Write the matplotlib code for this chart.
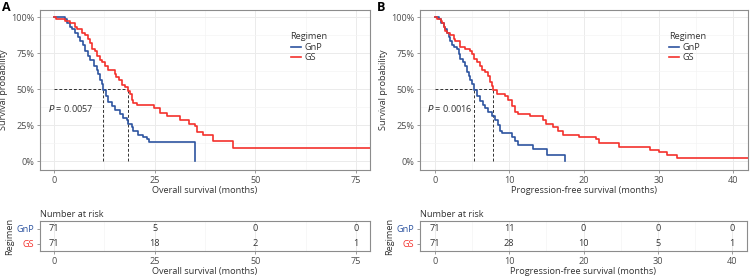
import matplotlib
matplotlib.use("Agg")
import matplotlib.pyplot as plt
import numpy as np

plt.rcParams['font.family'] = ['Open Sans', 'DejaVu Sans']

# ---------------- data ----------------
groups = ["GnP", "GS"]
colors = {"GnP": "#2D54A0", "GS": "#F4312C"}

# Panel A: overall survival
os_gnp_t = [0, 2.7, 3.1, 4.0, 4.4, 5.2, 6.0, 6.4, 7.3, 7.7, 8.5, 8.9, 9.8, 10.6, 11.0, 11.4, 11.8,
            12.2, 12.9, 13.5, 14.3, 15.1, 16.4, 17.2, 18.0, 18.4, 19.3, 19.7, 20.9, 22.1, 23.0, 23.6, 35.0]
os_gnp_s = [1.0, 0.986, 0.958, 0.93, 0.915, 0.887, 0.859, 0.831, 0.803, 0.761, 0.732, 0.704, 0.662, 0.634,
            0.606, 0.563, 0.535, 0.493, 0.451, 0.408, 0.38, 0.352, 0.324, 0.296, 0.282, 0.254, 0.239, 0.211,
            0.183, 0.169, 0.155, 0.134, 0.0]
os_gs_t = [0, 0.5, 2.7, 4.0, 5.2, 5.8, 6.9, 7.7, 8.5, 8.9, 9.3, 10.2, 10.6, 11.4, 11.8, 12.6, 13.5, 15.1,
           15.5, 16.2, 16.8, 17.6, 18.4, 18.9, 19.3, 19.7, 20.5, 24.8, 26.3, 28.0, 31.3, 33.6, 35.0, 35.4,
           37.0, 39.5, 44.5, 79.5]
os_gs_s = [1.0, 0.986, 0.972, 0.958, 0.93, 0.915, 0.887, 0.873, 0.845, 0.817, 0.775, 0.761, 0.732, 0.704,
           0.69, 0.662, 0.634, 0.606, 0.587, 0.563, 0.53, 0.516, 0.488, 0.465, 0.423, 0.40, 0.389, 0.368,
           0.33, 0.31, 0.282, 0.26, 0.24, 0.20, 0.18, 0.14, 0.093, 0.093]
os_medians = {"GnP": 12.2, "GS": 18.4}
os_p = "0.0057"
os_ticks = [0, 25, 50, 75]
os_risk = {"GnP": [71, 5, 0, 0], "GS": [71, 18, 2, 1]}

# Panel B: progression-free survival
pfs_gnp_t = [0, 0.53, 0.75, 1.2, 1.42, 1.64, 1.86, 2.08, 2.3, 2.53, 2.97, 3.19, 3.41, 3.73, 3.99, 4.3, 4.52,
             4.75, 4.97, 5.28, 5.63, 6.08, 6.39, 6.74, 7.18, 7.63, 8.07, 8.43, 8.74, 8.96, 10.3, 10.7, 11.2,
             13.1, 15.1, 17.4]
pfs_gnp_s = [1.0, 0.986, 0.958, 0.93, 0.915, 0.887, 0.859, 0.831, 0.803, 0.789, 0.775, 0.746, 0.71, 0.69,
             0.662, 0.62, 0.59, 0.563, 0.535, 0.493, 0.45, 0.42, 0.39, 0.366, 0.338, 0.31, 0.282, 0.25,
             0.211, 0.197, 0.169, 0.14, 0.113, 0.085, 0.042, 0.0]
pfs_gs_t = [0, 0.31, 0.75, 0.98, 1.2, 1.42, 1.64, 2.08, 2.53, 2.75, 3.41, 4.08, 4.75, 4.97, 5.19, 5.63, 6.08,
            6.3, 6.74, 7.18, 7.41, 7.63, 7.85, 8.29, 9.4, 9.84, 10.29, 10.73, 11.18, 12.7, 14.5, 14.9, 15.8,
            16.5, 17.2, 19.3, 21.6, 22.0, 24.7, 28.9, 30.0, 31.1, 32.5, 42.0]
pfs_gs_s = [1.0, 0.986, 0.972, 0.958, 0.93, 0.90, 0.887, 0.873, 0.845, 0.831, 0.789, 0.775, 0.761, 0.746,
            0.71, 0.69, 0.662, 0.634, 0.62, 0.592, 0.55, 0.52, 0.493, 0.465, 0.45, 0.423, 0.38, 0.338, 0.324,
            0.31, 0.282, 0.26, 0.239, 0.211, 0.183, 0.169, 0.155, 0.127, 0.10, 0.076, 0.062, 0.042, 0.021,
            0.021]
pfs_medians = {"GnP": 5.28, "GS": 7.85}
pfs_p = "0.0016"
pfs_ticks = [0, 10, 20, 30, 40]
pfs_risk = {"GnP": [71, 11, 0, 0, 0], "GS": [71, 28, 10, 5, 1]}

# ---------------- figure ----------------
W, H = 751, 278
fig = plt.figure(figsize=(W / 100, H / 100), dpi=100)

def frac(l, t, r, b):
    return [l / W, 1 - b / H, (r - l) / W, (b - t) / H]

GRID = "#EBEBEB"
SPINE = "#8C8C8C"
TICKC = "#4D4D4D"
FS = 6.6

def style(ax):
    for s in ax.spines.values():
        s.set_color(SPINE)
        s.set_linewidth(0.8)
    ax.tick_params(axis='both', colors=SPINE, length=2.5, width=0.6, labelsize=FS, labelcolor=TICKC, pad=1.5)
    ax.set_axisbelow(True)

def km_panel(rect, data, medians, xlim, ticks, minor, xlabel):
    ax = fig.add_axes(frac(*rect))
    style(ax)
    for g, (t, s) in data.items():
        ax.step(t, s, where='post', color=colors[g], lw=1.2, label=g, zorder=3)
    mmax = max(medians.values())
    ax.plot([0, mmax], [0.5, 0.5], ls=(0, (3, 2)), color="#333333", lw=0.7, zorder=2)
    for g, m in medians.items():
        ax.plot([m, m], [0, 0.5], ls=(0, (3, 2)), color="#333333", lw=0.7, zorder=2)
    ax.set_xlim(*xlim)
    ax.set_ylim(-0.0625, 1.049)
    ax.set_xticks(ticks)
    ax.set_xticks(minor, minor=True)
    ax.set_yticks([0, 0.25, 0.5, 0.75, 1.0])
    ax.set_yticklabels(["0%", "25%", "50%", "75%", "100%"])
    ax.set_yticks([0.125, 0.375, 0.625, 0.875], minor=True)
    ax.tick_params(which='minor', length=0)
    ax.grid(True, which='major', color=GRID, lw=0.7)
    ax.grid(True, which='minor', color="#F4F4F4", lw=0.5)
    ax.set_xlabel(xlabel, fontsize=FS, color="#333333", labelpad=1)
    ax.set_ylabel("Survival probability", fontsize=FS, color="#333333", labelpad=2)
    leg = ax.legend(title="Regimen", loc='upper left', bbox_to_anchor=(0.74, 0.90), frameon=False,
                    fontsize=FS, title_fontsize=FS, handlelength=1.1, handletextpad=0.4,
                    labelspacing=0.15, borderpad=0.2)
    leg._legend_box.align = "left"
    for txt in leg.get_texts():
        txt.set_color("#333333")
    leg.get_title().set_color("#333333")
    return ax

def risk_panel(rect, risk, xlim, ticks, minor, xlabel):
    ax = fig.add_axes(frac(*rect))
    style(ax)
    ax.set_xlim(*xlim)
    ax.set_ylim(0, 2)
    ypos = {"GnP": 1.5, "GS": 0.5}
    for g, vals in risk.items():
        for x, v in zip(ticks, vals):
            ax.text(x, ypos[g], str(v), ha='center', va='center', fontsize=FS, color="#333333")
    ax.set_xticks(ticks)
    ax.set_xticks(minor, minor=True)
    ax.tick_params(which='minor', length=0)
    ax.set_yticks([ypos["GnP"], ypos["GS"]])
    ax.set_yticklabels(["GnP", "GS"])
    for lab, g in zip(ax.get_yticklabels(), ["GnP", "GS"]):
        lab.set_color(colors[g])
    ax.grid(True, which='major', axis='x', color=GRID, lw=0.7)
    ax.grid(True, which='minor', axis='x', color="#F4F4F4", lw=0.5)
    ax.set_xlabel(xlabel, fontsize=FS, color="#333333", labelpad=1)
    ax.set_ylabel("Regimen", fontsize=FS, color="#333333", labelpad=2)
    ax.set_title("Number at risk", loc='left', fontsize=FS, color="#333333", pad=3)
    return ax

# Panel A
axA = km_panel((40, 10, 370, 170), {"GnP": (os_gnp_t, os_gnp_s), "GS": (os_gs_t, os_gs_s)},
               os_medians, (-3.5, 78.5), os_ticks, [12.5, 37.5, 62.5], "Overall survival (months)")
axA.text(-1.5, 0.365, "$P$ = " + os_p, fontsize=FS, color="#333333", va='center')
risk_panel((40, 221, 370, 251), os_risk, (-3.5, 78.5), os_ticks, [12.5, 37.5, 62.5],
           "Overall survival (months)")

# Panel B
axB = km_panel((420, 10, 748, 170), {"GnP": (pfs_gnp_t, pfs_gnp_s), "GS": (pfs_gs_t, pfs_gs_s)},
               pfs_medians, (-2.0, 42), pfs_ticks, [5, 15, 25, 35], "Progression-free survival (months)")
axB.text(-1.0, 0.365, "$P$ = " + pfs_p, fontsize=FS, color="#333333", va='center')
risk_panel((420, 221, 747, 251), pfs_risk, (-2.0, 42), pfs_ticks, [5, 15, 25, 35],
           "Progression-free survival (months)")

fig.text(2 / W, 1 - 1 / H, "A", fontsize=9, fontweight='bold', va='top', ha='left')
fig.text(377 / W, 1 - 1 / H, "B", fontsize=9, fontweight='bold', va='top', ha='left')

fig.savefig("out.png", dpi=100)
